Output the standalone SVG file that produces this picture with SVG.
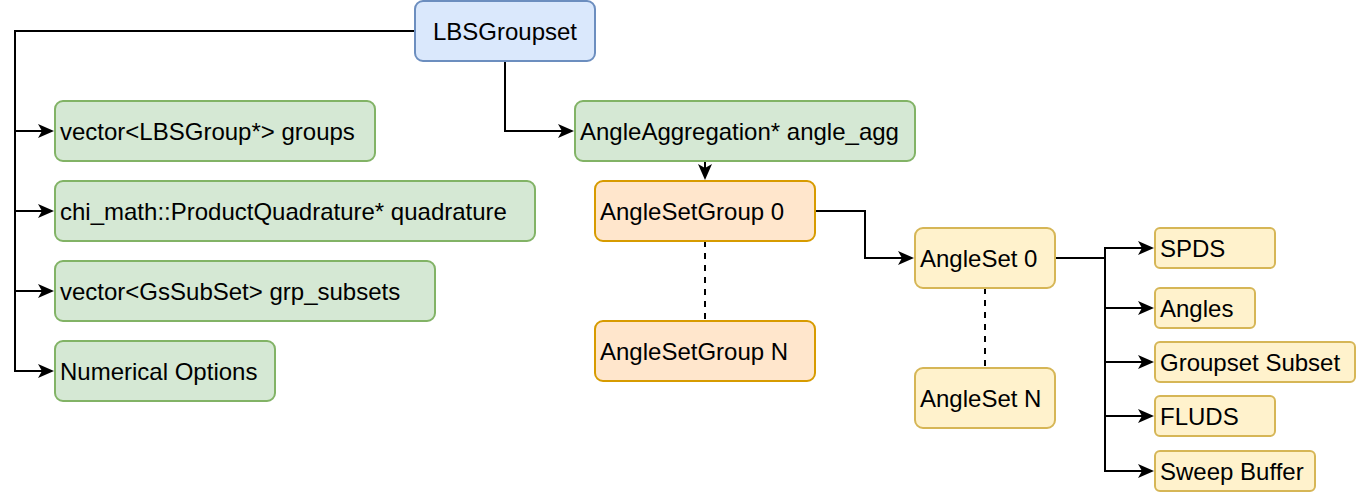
<svg xmlns="http://www.w3.org/2000/svg" width="1356" height="492" viewBox="0 0 1356 492">
<style>
text{font-family:"Liberation Sans",Arial,sans-serif;font-size:24px;fill:#000}
.n rect{stroke-width:2}
.blue rect{fill:#dae8fc;stroke:#6c8ebf}
.green rect{fill:#d5e8d4;stroke:#82b366}
.orange rect{fill:#ffe6cc;stroke:#d79b00}
.yellow rect{fill:#fff2cc;stroke:#d6b656}
.c path{fill:none;stroke:#000;stroke-width:2}
.c .d{stroke-dasharray:6 6}
.ah{fill:#000;stroke:none}
</style>
<defs>
<path id="ah" class="ah" d="M0,0 L-16,-7 L-12,0 L-16,7 Z"/>
</defs>
<g class="c" id="connectors">
<path d="M415,31 H15 V371 H44"/>
<path d="M15,131 H44"/>
<path d="M15,211 H44"/>
<path d="M15,291 H44"/>
<path d="M505,61 V131 H564"/>
<path d="M705,161 V170"/>
<path d="M815,211 H865 V258 H904"/>
<path d="M1055,258 H1105 V471 H1144"/>
<path d="M1105,259 V248 H1144"/>
<path d="M1105,308 H1144"/>
<path d="M1105,362 H1144"/>
<path d="M1105,416 H1144"/>
<path class="d" d="M705,241 V321"/>
<path class="d" d="M985,288 V368"/>
<use href="#ah" x="54" y="131"/>
<use href="#ah" x="54" y="211"/>
<use href="#ah" x="54" y="291"/>
<use href="#ah" x="54" y="371"/>
<use href="#ah" x="574" y="131"/>
<use href="#ah" transform="translate(705,180) rotate(90)"/>
<use href="#ah" x="914" y="258"/>
<use href="#ah" x="1154" y="248"/>
<use href="#ah" x="1154" y="308"/>
<use href="#ah" x="1154" y="362"/>
<use href="#ah" x="1154" y="416"/>
<use href="#ah" x="1154" y="471"/>
</g>
<g id="lbsgroupset" class="n blue"><rect x="415" y="1" width="180" height="60" rx="8"/><text x="505" y="39.5" text-anchor="middle">LBSGroupset</text></g>
<g id="groups" class="n green"><rect x="55" y="101" width="320" height="60" rx="8"/><text x="60" y="139.5">vector&lt;LBSGroup*&gt; groups</text></g>
<g id="quadrature" class="n green"><rect x="55" y="181" width="480" height="60" rx="8"/><text x="60" y="219.5">chi_math::ProductQuadrature* quadrature</text></g>
<g id="grp_subsets" class="n green"><rect x="55" y="261" width="380" height="60" rx="8"/><text x="60" y="299.5">vector&lt;GsSubSet&gt; grp_subsets</text></g>
<g id="numerical_options" class="n green"><rect x="55" y="341" width="220" height="60" rx="8"/><text x="60" y="379.5">Numerical Options</text></g>
<g id="angle_agg" class="n green"><rect x="575" y="101" width="340" height="60" rx="8"/><text x="580" y="139.5">AngleAggregation* angle_agg</text></g>
<g id="asg0" class="n orange"><rect x="595" y="181" width="220" height="60" rx="8"/><text x="600" y="219.5">AngleSetGroup 0</text></g>
<g id="asgN" class="n orange"><rect x="595" y="321" width="220" height="60" rx="8"/><text x="600" y="359.5">AngleSetGroup N</text></g>
<g id="as0" class="n yellow"><rect x="915" y="228" width="140" height="60" rx="8"/><text x="920" y="266.5">AngleSet 0</text></g>
<g id="asN" class="n yellow"><rect x="915" y="368" width="140" height="60" rx="8"/><text x="920" y="406.5">AngleSet N</text></g>
<g id="spds" class="n yellow"><rect x="1155" y="228" width="120" height="40" rx="5"/><text x="1160" y="256.5">SPDS</text></g>
<g id="angles" class="n yellow"><rect x="1155" y="288" width="100" height="40" rx="5"/><text x="1160" y="316.5">Angles</text></g>
<g id="gs_subset" class="n yellow"><rect x="1155" y="342" width="200" height="40" rx="5"/><text x="1160" y="370.5">Groupset Subset</text></g>
<g id="fluds" class="n yellow"><rect x="1155" y="396" width="120" height="40" rx="5"/><text x="1160" y="424.5">FLUDS</text></g>
<g id="sweep_buffer" class="n yellow"><rect x="1155" y="451" width="160" height="40" rx="5"/><text x="1160" y="479.5">Sweep Buffer</text></g>
</svg>
